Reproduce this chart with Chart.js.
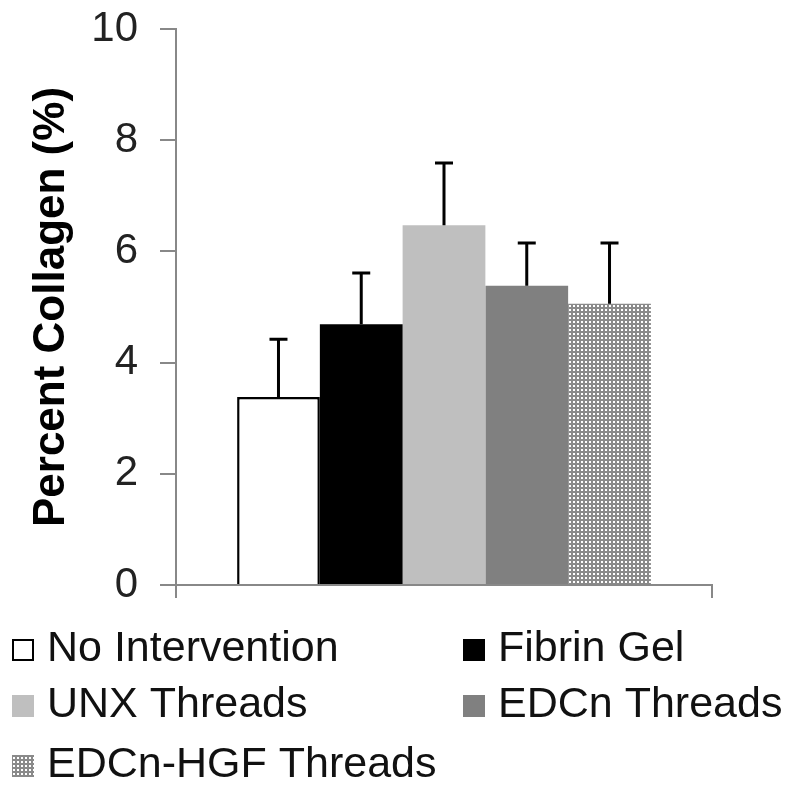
<!DOCTYPE html>
<html>
<head>
<meta charset="utf-8">
<script src="https://cdn.jsdelivr.net/npm/chart.js@4/dist/chart.umd.min.js"></script>
<style>
  body { margin: 0; background: #fff; }
</style>
</head>
<body>
<canvas id="grafico" width="800" height="789"></canvas>
<script>
// datos
const categories = [''];
const groups = ['No Intervention', 'Fibrin Gel', 'UNX Threads', 'EDCn Threads', 'EDCn-HGF Threads'];
const means = [3.38, 4.69, 6.47, 5.38, 5.06];
const errors = [1.04, 0.92, 1.12, 0.77, 1.09];
const yTicks = [0, 2, 4, 6, 8, 10];

const FONT = "'Liberation Sans', Arial, sans-serif";

function makeDots() {
    let c = document.createElement('canvas');
    c.width = 4; c.height = 4;
    let g = c.getContext('2d');
    g.fillStyle = '#8a8a8a';
    g.fillRect(0, 0, 4, 4);
    g.fillStyle = '#ffffff';
    g.fillRect(1, 1, 2, 2);
    return g.createPattern(c, 'repeat');
}

const ctx = document.getElementById('grafico').getContext('2d');
const dots = makeDots();

const fills = ['#ffffff', '#000000', '#bfbfbf', '#808080', dots];
const borders = ['#000000', '#000000', '#bfbfbf', '#808080', '#8a8a8a'];

const errorBars = {
    id: 'errorBars',
    afterDatasetsDraw(chart) {
        let c = chart.ctx, y = chart.scales.y;
        c.save();
        c.strokeStyle = '#000';
        c.lineWidth = 3;
        chart.data.datasets.forEach((ds, i) => {
            let bar = chart.getDatasetMeta(i).data[0];
            let top = y.getPixelForValue(ds.data[0] + errors[i]);
            c.beginPath();
            c.moveTo(bar.x, bar.y);
            c.lineTo(bar.x, top);
            c.moveTo(bar.x - 9, top);
            c.lineTo(bar.x + 9, top);
            c.stroke();
        });
        c.restore();
    }
};

// leyenda en dos columnas, como la figura
const gridLegend = {
    id: 'gridLegend',
    afterDraw(chart) {
        let c = chart.ctx;
        let cols = [12, 463];
        let rows = [661, 717, 777];
        c.save();
        c.font = "43px " + FONT;
        c.textBaseline = 'alphabetic';
        chart.data.datasets.forEach((ds, i) => {
            let x = cols[i % 2];
            let yb = rows[Math.floor(i / 2)];
            c.fillStyle = ds.backgroundColor;
            c.fillRect(x, yb - 22, 22, 22);
            if (i === 0) {
                c.strokeStyle = '#000';
                c.lineWidth = 2;
                c.strokeRect(x + 1, yb - 21, 20, 20);
            }
            c.fillStyle = '#111';
            c.fillText(ds.label, x + 35, yb);
        });
        c.restore();
    }
};

new Chart(ctx, {
    type: 'bar',
    data: {
        labels: categories,
        datasets: groups.map((g, i) => ({
            label: g,
            data: [means[i]],
            backgroundColor: fills[i],
            borderColor: borders[i],
            borderWidth: i === 0 ? 2.5 : 0,
            categoryPercentage: 0.772,
            barPercentage: 1
        }))
    },
    options: {
        responsive: false,
        animation: false,
        layout: { padding: { left: 0, right: 88, top: 29, bottom: 190 } },
        plugins: {
            legend: { display: false },
            tooltip: { enabled: false }
        },
        scales: {
            x: {
                grid: { display: true, drawOnChartArea: false, offset: true, tickLength: 13, color: '#888', lineWidth: 2 },
                border: { color: '#888', width: 2 },
                ticks: { display: false },
                afterFit(s) { s.height = 14; }
            },
            y: {
                min: 0,
                max: 10,
                afterBuildTicks(s) { s.ticks = yTicks.map(v => ({ value: v })); },
                grid: { drawOnChartArea: false, tickLength: 16, color: '#888', lineWidth: 2 },
                border: { color: '#888', width: 2 },
                ticks: { font: { family: FONT, size: 42 }, color: '#222', padding: 22 },
                title: {
                    display: true,
                    text: 'Percent Collagen (%)',
                    font: { family: FONT, size: 44, weight: 'bold' },
                    color: '#000',
                    padding: { top: 25, bottom: 10 }
                },
                afterFit(s) {
                    s.width = 176;
                    s.paddingTop = 0;
                    s.paddingBottom = 0;
                }
            }
        }
    },
    plugins: [errorBars, gridLegend]
});
</script>
</body>
</html>
